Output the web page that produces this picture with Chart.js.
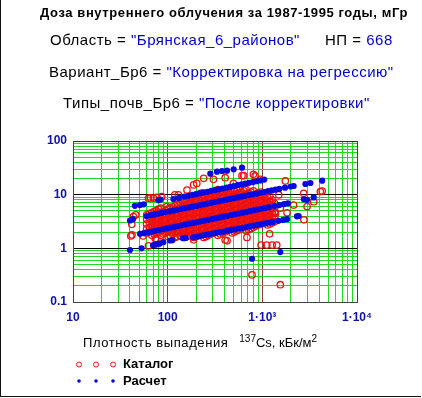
<!DOCTYPE html>
<html>
<head>
<meta charset="utf-8">
<script src="https://cdn.jsdelivr.net/npm/chart.js@4"></script>
<style>
  body { margin: 0; background: #fff; }
  #wrap { position: relative; width: 422px; height: 398px; font-family: "Liberation Sans", Arial, sans-serif; }
  #frame { position: absolute; left: 0; top: 0; width: 420px; height: 396px; border-left: 1px solid #111; border-bottom: 1px solid #111; }
  canvas { position: absolute; left: 0; top: 0; }
  .t { position: absolute; white-space: nowrap; color: #000; line-height: 1; }
  .b { color: #0000c8; }
  .title { font-weight: bold; font-size: 13px; letter-spacing: 0.6px; }
  .sub { font-size: 15px; letter-spacing: 0.5px; }
  sup { font-size: 10px; position: relative; top: -2px; vertical-align: top; }
</style>
</head>
<body>
<div id="wrap">
  <div id="frame"></div>
  <canvas id="chart" width="422" height="398"></canvas>
  <div class="t title" style="left:40px; top:6px;">Доза внутреннего облучения за 1987-1995 годы, мГр</div>
  <div class="t sub" style="left:50px; top:32px;">Область = <span class="b">"Брянская_6_районов"</span></div>
  <div class="t sub" style="left:325px; top:32px;">НП = <span class="b">668</span></div>
  <div class="t sub" style="left:49px; top:64px;">Вариант_Бр6 = <span class="b">"Корректировка на регрессию"</span></div>
  <div class="t sub" style="left:63px; top:95px;">Типы_почв_Бр6 = <span class="b">"После корректировки"</span></div>
  <div class="t" style="left:83px; top:336px; font-size:13px;"><span style="letter-spacing:0.6px;">Плотность выпадения</span>&nbsp;&nbsp;&nbsp;<sup>137</sup>Cs, кБк/м<sup>2</sup></div>
  <div class="t" style="left:123px; top:357px; font-size:13px; font-weight:bold;">Каталог</div>
  <div class="t" style="left:123px; top:374px; font-size:13px; font-weight:bold;">Расчет</div>
</div>
<script>
'use strict';

// axis ticks
const xDecades = [10, 100, 1000, 10000];
const xTickLabels = ['10', '100', '1·10³', '1·10⁴'];
const yDecades = [0.1, 1, 10, 100];
const yTickLabels = ['0.1', '1', '10', '100'];

// Расчет (blue dots)
const calcTop = [[115,8.3],[131,8.7],[151,9.2],[166,9.5],[182,9.9],[199,10.2],[219,10.6],[240,11.0],[263,11.3],[288,11.8],[316,12.2],[347,12.6],[380,13.0],[417,13.5],[457,14.0],[501,14.5],[550,15.0],[603,15.5],[661,16.0],[724,16.6],[794,17.2],[871,17.8],[955,18.4],[1047,19.1]];
const calcUpper = [[60,4.0],[66,4.14],[72,4.28],[79,4.43],[87,4.58],[95,4.73],[105,4.89],[115,5.06],[126,5.23],[138,5.41],[151,5.59],[166,5.78],[182,5.97],[200,6.17],[219,6.38],[240,6.6],[263,6.82],[288,7.05],[316,7.29],[347,7.54],[380,7.79],[417,8.05],[457,8.32],[501,8.61],[550,8.9],[603,9.2],[661,9.51],[724,9.83],[794,10.16],[871,10.5],[955,10.86],[1047,11.22],[1148,11.6],[1259,12.0],[1380,12.4],[1514,12.8],[1738,13.5],[1995,14.2]];
const calcMiddle = [[51,1.86],[56,1.92],[62,1.98],[68,2.05],[74,2.12],[81,2.2],[89,2.27],[98,2.35],[107,2.43],[118,2.51],[129,2.6],[141,2.69],[155,2.78],[170,2.88],[186,2.97],[204,3.08],[224,3.18],[245,3.29],[269,3.4],[295,3.52],[324,3.64],[355,3.77],[389,3.9],[427,4.03],[468,4.17],[513,4.31],[562,4.46],[617,4.61],[676,4.77],[741,4.93],[813,5.1],[891,5.28],[977,5.46],[1072,5.64],[1175,5.84],[1349,6.14],[1514,6.4],[1698,6.68],[1862,6.91]];
const calcLower = [[186,1.61],[204,1.66],[224,1.71],[245,1.77],[269,1.82],[295,1.88],[324,1.94],[355,2.0],[389,2.06],[427,2.13],[468,2.2],[513,2.27],[562,2.34],[617,2.41],[676,2.49],[741,2.57],[813,2.65],[891,2.74],[977,2.82],[1072,2.91],[1175,3.0],[1288,3.1],[1479,3.25],[1660,3.38],[1820,3.49]];
const calcScattered = [[40,0.93],[53,1.0],[70,1.14],[74,1.17],[78,1.2],[82,1.22],[90,1.3],[106,1.4],[112,1.42],[145,1.54],[155,1.56],
  [40,3.3],[43,3.5],[45,6.2],[51,6.4],[56,6.6],[80,7.9],[84,8.1],
  [282,24.6],[332,26.8],[375,27.6],[424,28],[498,29.7],[610,31.8],
  [2143,14.5],[2850,15.8],[3220,16.5],[4285,18.2],[2750,8.2],[2970,8.0],[3490,8.9],[2320,3.95],[2420,4.0],[1549,0.85],[778,0.64]];

// Каталог (red circles): dense core as columns [x, [y...]] plus scattered ones
const catalogCore = [
  [60,[1.93,2.3,2.85,3.5,4.2]],
  [68,[1.75,2.13,2.6,3.1,3.8,4.6]],
  [76,[1.9,2.34,2.8,3.47,4.2,5.0]],
  [85,[1.75,2.1,2.6,3.15,3.8,4.65,5.6]],
  [95,[1.93,2.4,2.85,3.4,4.2,5.1]],
  [107,[1.7,2.13,2.6,3.2,3.8,4.7,5.65]],
  [120,[1.6,1.95,2.34,2.9,3.47,4.2,5.1,6.2]],
  [135,[1.75,2.1,2.6,3.15,3.85,4.65,5.6,6.9,8.4]],
  [151,[1.6,1.93,2.3,2.85,3.5,4.2,5.1,6.3,7.6]],
  [170,[1.75,2.13,2.6,3.1,3.8,4.6,5.65,6.9,8.3]],
  [190,[1.6,1.93,2.34,2.85,3.47,4.25,5.1,6.2,7.6,9.2]],
  [214,[1.75,2.15,2.6,3.15,3.8,4.65,5.7,6.9,8.4,10.2]],
  [240,[1.6,1.9,2.34,2.85,3.5,4.2,5.1,6.2,7.6,9.3]],
  [269,[1.75,2.13,2.6,3.15,3.8,4.6,5.65,6.9,8.4,10.2]],
  [302,[1.93,2.34,2.85,3.47,4.2,5.1,6.2,7.5,9.2,11.2]],
  [339,[1.75,2.13,2.6,3.2,3.8,4.65,5.65,6.9,8.4,10.2,12.4]],
  [380,[1.95,2.34,2.85,3.47,4.2,5.1,6.2,7.6,9.2,11.2]],
  [427,[2.13,2.6,3.15,3.8,4.65,5.65,6.9,8.4,10.2,12.4]],
  [479,[1.93,2.34,2.85,3.5,4.2,5.1,6.2,7.6,9.2,11.2]],
  [537,[2.13,2.6,3.15,3.8,4.7,5.65,6.9,8.4,10.2,12.4]],
  [603,[2.34,2.85,3.47,4.2,5.1,6.2,7.6,9.2,11.2]],
  [676,[2.13,2.6,3.15,3.8,4.65,5.65,6.9,8.4,10.2,12.4]],
  [759,[2.34,2.85,3.47,4.2,5.1,6.2,7.6,9.2,11.2]],
  [851,[2.6,3.15,3.8,4.65,5.65,6.9,8.4,10.2]],
  [955,[2.85,3.47,4.2,5.1,6.2,7.6,9.2,11.2]],
  [1072,[3.15,3.8,4.65,5.65,6.9,8.4,10.2]],
  [1202,[2.85,3.47,4.2,5.1,6.2,7.6,9.2]],
  [1349,[3.15,3.8,4.65,5.65,6.9]]
];
// more of the core, between the columns above
const catalogCoreFill = [
  [64,[2.02,2.46,2.99,3.64,4.43]],
  [72,[1.84,2.23,2.72,3.3,4.02,4.89]],
  [80,[2.02,2.46,2.99,3.64,4.43,5.38]],
  [90,[1.84,2.23,2.72,3.3,4.02,4.89]],
  [101,[1.66,2.02,2.46,2.99,3.64,4.43,5.38]],
  [113,[1.84,2.23,2.72,3.3,4.02,4.89,5.94]],
  [127,[1.66,2.02,2.46,2.99,3.64,4.43,5.38,6.55]],
  [143,[1.84,2.23,2.72,3.3,4.02,4.89,5.94,7.23]],
  [160,[1.66,2.02,2.46,2.99,3.64,4.43,5.38,6.55,7.96]],
  [180,[1.84,2.23,2.72,3.3,4.02,4.89,5.94,7.23,8.79]],
  [202,[1.66,2.02,2.46,2.99,3.64,4.43,5.38,6.55,7.96,9.68]],
  [227,[1.84,2.23,2.72,3.3,4.02,4.89,5.94,7.23,8.79,10.7]],
  [254,[1.66,2.02,2.46,2.99,3.64,4.43,5.38,6.55,7.96,9.68]],
  [285,[1.84,2.23,2.72,3.3,4.02,4.89,5.94,7.23,8.79,10.7]],
  [320,[2.02,2.46,2.99,3.64,4.43,5.38,6.55,7.96,9.68,11.8]],
  [359,[1.84,2.23,2.72,3.3,4.02,4.89,5.94,7.23,8.79,10.7]],
  [403,[2.02,2.46,2.99,3.64,4.43,5.38,6.55,7.96,9.68,11.8]],
  [453,[2.23,2.72,3.3,4.02,4.89,5.94,7.23,8.79,10.7]],
  [508,[2.02,2.46,2.99,3.64,4.43,5.38,6.55,7.96,9.68,11.8]],
  [570,[2.23,2.72,3.3,4.02,4.89,5.94,7.23,8.79,10.7,13.0]],
  [639,[2.46,2.99,3.64,4.43,5.38,6.55,7.96,9.68,11.8]],
  [717,[2.23,2.72,3.3,4.02,4.89,5.94,7.23,8.79,10.7]],
  [805,[2.46,2.99,3.64,4.43,5.38,6.55,7.96,9.68,11.8]],
  [903,[2.72,3.3,4.02,4.89,5.94,7.23,8.79,10.7]],
  [1013,[2.99,3.64,4.43,5.38,6.55,7.96,9.68]],
  [1136,[2.72,3.3,4.02,4.89,5.94,7.23,8.79]],
  [1275,[2.99,3.64,4.43,5.38,6.55,7.96]]
];
const catalogScattered = [[40.8,1.7],[41.8,2.8],[43.5,3.9],[46,4.2],[42,1.78],[55,1.7],[62.7,1.11],[74,1.53],[77,1.43],[77,1.9],
  [62.7,8.6],[66,8.7],[70.8,8.6],[77,8.9],[86.6,9.2],[98,6.0],[111,3.1],[119,9.9],[130,9.9],[160,12.2],[188,15.2],[203,16.2],
  [240,20.2],[305,19.3],[405,20.7],[495,16.3],[610,22.6],[635,22.6],[805,24],[840,22.3],[950,19.3],
  [136,1.7],[188,1.44],[405,1.43],[424,1.38],[688,1.6],[970,1.15],[1113,1.15],[1272,1.15],[1420,1.15],[1194,1.86],
  [778,0.32],[1549,0.21],[1380,4.5],[1490,9.9],[1550,5.6],[1750,18],[1824,4.6],[2140,6.4],[2735,10.6],[2750,3.4],
  [2970,6.0],[3490,7.4],[4100,11.4],[4285,11.7]];

const BLUE = '#0808e0';
const RED = '#f01010';

function toXY(pairs) {
  return pairs.map(p => ({ x: p[0], y: p[1] }));
}

const catalogPoints = [];
catalogCore.concat(catalogCoreFill).forEach(col => col[1].forEach(y => catalogPoints.push({ x: col[0], y: y })));
toXY(catalogScattered).forEach(p => catalogPoints.push(p));

const calcPoints = [].concat(toXY(calcTop), toXY(calcUpper), toXY(calcMiddle), toXY(calcLower), toXY(calcScattered));

function gridValues(decades) {
  const vals = [];
  decades.forEach((d, i) => {
    if (i === decades.length - 1) { vals.push(d); return; }
    for (let k = 1; k <= 9; k++) vals.push(+(d * k).toPrecision(6));
  });
  return vals;
}

function isDecade(v, decades) {
  return decades.some(d => Math.abs(d - v) < d * 1e-6);
}

function labelFor(v, decades, labels) {
  const i = decades.findIndex(d => Math.abs(d - v) < d * 1e-6);
  return i >= 0 ? labels[i] : '';
}

const legendMarks = {
  id: 'legendMarks',
  afterDraw(chart) {
    const ctx = chart.ctx;
    ctx.save();
    [79, 96, 113].forEach(x => {
      ctx.beginPath();
      ctx.strokeStyle = RED;
      ctx.lineWidth = 1;
      ctx.arc(x, 364.5, 2.5, 0, Math.PI * 2);
      ctx.stroke();
      ctx.beginPath();
      ctx.fillStyle = BLUE;
      ctx.arc(x, 381, 1.8, 0, Math.PI * 2);
      ctx.fill();
    });
    ctx.restore();
  }
};

const ctx = document.getElementById('chart').getContext('2d');
new Chart(ctx, {
  type: 'scatter',
  data: {
    datasets: [
      {
        label: 'Расчет',
        data: calcPoints,
        order: 0,
        pointRadius: 3.1,
        pointBackgroundColor: BLUE,
        pointBorderWidth: 0
      },
      {
        label: 'Каталог',
        data: catalogPoints,
        order: 1,
        pointRadius: 3.2,
        pointBackgroundColor: 'rgba(0,0,0,0)',
        pointBorderColor: RED,
        pointBorderWidth: 1.3
      }
    ]
  },
  options: {
    responsive: false,
    animation: false,
    devicePixelRatio: 1,
    layout: { padding: { left: 0, top: 141, right: 65, bottom: 0 } },
    plugins: { legend: { display: false }, tooltip: { enabled: false } },
    scales: {
      x: {
        type: 'logarithmic',
        min: 10,
        max: 10000,
        afterBuildTicks: s => { s.ticks = gridValues(xDecades).map(v => ({ value: v })); },
        afterFit: s => { s.height = 96; },
        border: { display: true, color: '#444' },
        grid: {
          drawTicks: false,
          color: c => {
            const v = c.tick.value;
            if (v === 10 || v === 10000) return '#444';
            return isDecade(v, xDecades) ? '#8a3c3c' : '#22d822';
          }
        },
        ticks: {
          autoSkip: false,
          maxRotation: 0,
          padding: 8,
          color: '#1010b0',
          font: { size: 12, weight: 'bold' },
          callback: v => labelFor(v, xDecades, xTickLabels)
        }
      },
      y: {
        type: 'logarithmic',
        min: 0.1,
        max: 100,
        afterBuildTicks: s => { s.ticks = gridValues(yDecades).map(v => ({ value: v })); },
        afterFit: s => { s.width = 73; },
        border: { display: true, color: '#444' },
        grid: {
          drawTicks: false,
          color: c => {
            const v = c.tick.value;
            if (Math.abs(v - 0.1) < 1e-9 || v === 100) return '#333';
            return isDecade(v, yDecades) ? '#000' : '#22d822';
          }
        },
        ticks: {
          autoSkip: false,
          padding: 6,
          color: '#1010b0',
          font: { size: 12, weight: 'bold' },
          callback: v => labelFor(v, yDecades, yTickLabels)
        }
      }
    }
  },
  plugins: [legendMarks]
});
</script>
</body>
</html>
